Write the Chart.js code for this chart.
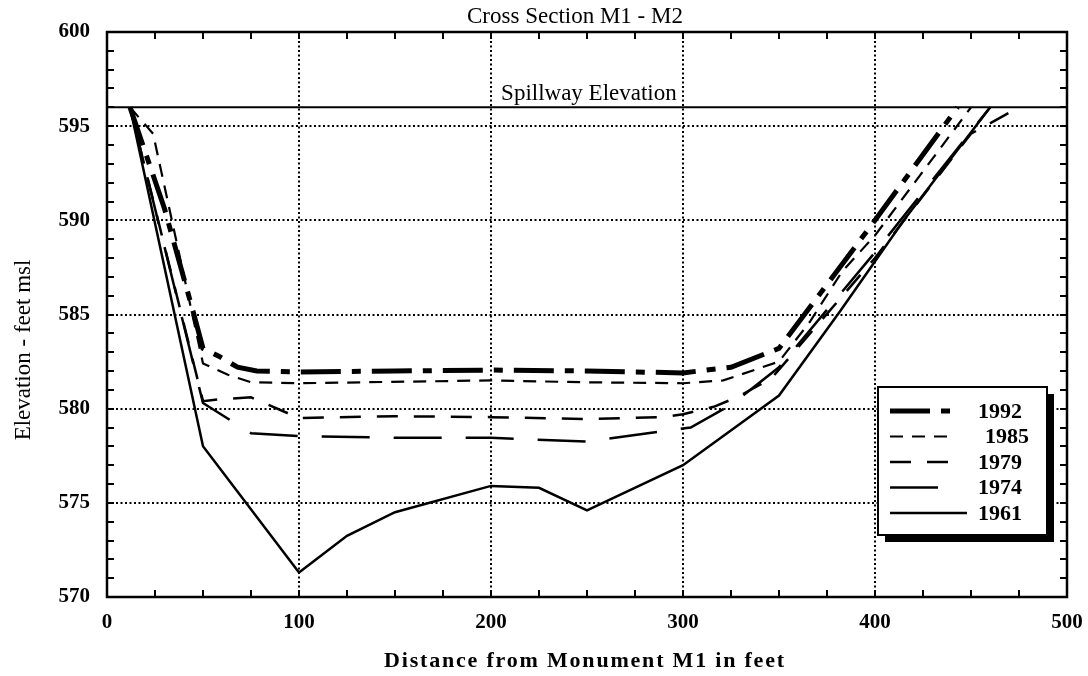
<!DOCTYPE html>
<html>
<head>
<meta charset="utf-8">
<script src="https://cdn.jsdelivr.net/npm/chart.js@4.4.1/dist/chart.umd.min.js"></script>
<style>
  html, body { margin: 0; padding: 0; background: #fff; }
</style>
</head>
<body>
<canvas id="crossChart" width="1088" height="676"></canvas>
<script>
// Cross Section M1 - M2, elevations
const years = ["1992", "1985", "1979", "1974", "1961"];

const x1992 = [12, 30, 45, 50, 58, 68, 78, 100, 150, 200, 250, 300, 325, 350, 400, 443];
const y1992 = [596, 590.6, 585.1, 583.2, 582.8, 582.2, 582.0, 581.95, 582.0, 582.05, 582.0, 581.9, 582.2, 583.2, 590.0, 596];

const x1985 = [12, 24, 50, 63, 75, 100, 200, 250, 300, 321, 350, 366, 383, 400, 450];
const y1985 = [596, 594.6, 582.4, 581.8, 581.4, 581.35, 581.5, 581.4, 581.35, 581.5, 582.5, 584.6, 587.3, 589.2, 596];

const x1979 = [12, 50, 59, 75, 100, 150, 200, 250, 290, 300, 316, 328, 346, 400, 450, 475];
const y1979 = [596, 580.4, 580.5, 580.6, 579.5, 579.6, 579.55, 579.45, 579.55, 579.7, 580.1, 580.6, 581.6, 588.0, 594.6, 596];

const x1974 = [12, 50, 75, 100, 150, 200, 250, 304, 325, 350, 400, 460];
const y1974 = [596, 580.3, 578.7, 578.55, 578.45, 578.45, 578.25, 579.0, 580.2, 582.2, 588.3, 596];

const x1961 = [12, 50, 100, 125, 150, 200, 225, 250, 300, 350, 382, 415, 460];
const y1961 = [596, 578.0, 571.3, 573.25, 574.5, 575.9, 575.8, 574.6, 577.0, 580.7, 585.2, 590.0, 596];

// spillway elevation line
const spillX = [0, 500];
const spillY = [596, 596];

// axes
const xTicks = [0, 100, 200, 300, 400, 500];
const yTicks = [570, 575, 580, 585, 590, 595, 600];
const xGrid = [100, 200, 300, 400];
const yGrid = [575, 580, 585, 590, 595];
const xMinor = [25, 50, 75, 125, 150, 175, 225, 250, 275, 325, 350, 375, 425, 450, 475];
const yMinor = [571, 572, 573, 574, 576, 577, 578, 579, 581, 582, 583, 584, 586, 587, 588, 589, 591, 592, 593, 594, 596, 597, 598, 599];

const serif = "'Liberation Serif', 'DejaVu Serif', serif";

function toPoints(xs, ys) {
  return xs.map((v, i) => ({ x: v, y: ys[i] }));
}

const seriesX = [x1992, x1985, x1979, x1974, x1961];
const seriesY = [y1992, y1985, y1979, y1974, y1961];
const dashes = [[40, 11, 9, 11], [13, 9], [21, 16], [48, 24], []];
const widths = [5, 2.2, 2.5, 2.5, 2.5];

const datasets = years.map((yr, i) => ({
  label: yr,
  data: toPoints(seriesX[i], seriesY[i]),
  borderColor: "#000",
  borderWidth: widths[i],
  borderDash: dashes[i],
  pointRadius: 0,
  tension: 0,
  fill: false,
}));

datasets.push({
  label: "Spillway Elevation",
  data: toPoints(spillX, spillY),
  borderColor: "#000",
  borderWidth: 2,
  pointRadius: 0,
  fill: false,
});

// grid, inward ticks, frame, texts and the shadowed legend
const framePlugin = {
  id: "frame",
  beforeDatasetsDraw(chart) {
    const { ctx, chartArea: a, scales: { x, y } } = chart;
    ctx.save();
    ctx.strokeStyle = "#000";
    ctx.lineWidth = 2;
    ctx.setLineDash([2, 2.5]);
    xGrid.forEach((v) => {
      const px = Math.round(x.getPixelForValue(v));
      ctx.beginPath();
      ctx.moveTo(px, a.top);
      ctx.lineTo(px, a.bottom);
      ctx.stroke();
    });
    yGrid.forEach((v) => {
      const py = Math.round(y.getPixelForValue(v));
      ctx.beginPath();
      ctx.moveTo(a.left, py);
      ctx.lineTo(a.right, py);
      ctx.stroke();
    });
    ctx.restore();
  },
  afterDatasetsDraw(chart) {
    const { ctx, chartArea: a, scales: { x, y } } = chart;
    ctx.save();
    ctx.strokeStyle = "#000";
    ctx.fillStyle = "#000";
    ctx.setLineDash([]);

    // minor + major tick marks, pointing inward on all four sides
    ctx.lineWidth = 2;
    const tl = 7;
    xMinor.concat(xTicks).forEach((v) => {
      const px = Math.round(x.getPixelForValue(v));
      ctx.beginPath();
      ctx.moveTo(px, a.bottom);
      ctx.lineTo(px, a.bottom - tl);
      ctx.moveTo(px, a.top);
      ctx.lineTo(px, a.top + tl);
      ctx.stroke();
    });
    yMinor.concat(yTicks).forEach((v) => {
      const py = Math.round(y.getPixelForValue(v));
      ctx.beginPath();
      ctx.moveTo(a.left, py);
      ctx.lineTo(a.left + tl, py);
      ctx.moveTo(a.right, py);
      ctx.lineTo(a.right - tl, py);
      ctx.stroke();
    });

    // plot frame
    ctx.lineWidth = 2.5;
    ctx.strokeRect(a.left, a.top, a.right - a.left, a.bottom - a.top);

    // texts
    ctx.textAlign = "center";
    ctx.textBaseline = "alphabetic";
    ctx.font = "23px " + serif;
    ctx.fillText("Cross Section M1 - M2", a.left + (a.right - a.left) / 2 - 12, 23);
    ctx.fillText("Spillway Elevation", x.getPixelForValue(251), y.getPixelForValue(596) - 7);
    ctx.font = "bold 22px " + serif;
    ctx.letterSpacing = "1.8px";
    ctx.fillText("Distance from Monument M1 in feet", a.left + (a.right - a.left) / 2 - 2, 667);
    ctx.letterSpacing = "0px";

    ctx.save();
    ctx.translate(30, 350);
    ctx.rotate(-Math.PI / 2);
    ctx.font = "23px " + serif;
    ctx.fillText("Elevation - feet msl", 0, 0);
    ctx.restore();

    // legend box with drop shadow
    const bx = a.right - 189, by = a.top + 355, bw = 169, bh = 148;
    ctx.fillRect(bx + 7, by + 7, bw, bh);
    ctx.fillStyle = "#fff";
    ctx.fillRect(bx, by, bw, bh);
    ctx.lineWidth = 2;
    ctx.strokeRect(bx, by, bw, bh);

    ctx.fillStyle = "#000";
    ctx.font = "bold 22px " + serif;
    ctx.textAlign = "left";
    ctx.textBaseline = "middle";
    years.forEach((yr, i) => {
      const ds = chart.data.datasets[i];
      const ly = by + 24 + i * 25.5;
      const len = i === 4 ? 77 : 62;
      ctx.lineWidth = ds.borderWidth;
      ctx.setLineDash(ds.borderDash);
      ctx.beginPath();
      ctx.moveTo(bx + 12, ly);
      ctx.lineTo(bx + 12 + len, ly);
      ctx.stroke();
      ctx.setLineDash([]);
      ctx.fillText(yr, bx + (i === 1 ? 107 : 100), ly + 1);
    });
    ctx.restore();
  },
};

const tickFont = { family: serif, size: 21, weight: "bold" };

const config = {
  type: "line",
  data: { datasets: datasets },
  options: {
    responsive: false,
    animation: false,
    layout: { padding: { top: 32, right: 21, left: 0, bottom: 0 } },
    plugins: {
      legend: { display: false },
      title: { display: false },
      tooltip: { enabled: false },
    },
    scales: {
      x: {
        type: "linear",
        min: 0,
        max: 500,
        grid: { display: false, drawTicks: false },
        border: { display: false },
        afterBuildTicks: (s) => { s.ticks = xTicks.map((v) => ({ value: v })); },
        afterFit: (s) => { s.height = 79; s.paddingLeft = 0; s.paddingRight = 0; },
        ticks: { color: "#000", font: tickFont, padding: 13, maxRotation: 0 },
      },
      y: {
        type: "linear",
        min: 570,
        max: 600,
        grid: { display: false, drawTicks: false },
        border: { display: false },
        afterBuildTicks: (s) => { s.ticks = yTicks.map((v) => ({ value: v })); },
        afterFit: (s) => { s.width = 107; s.paddingTop = 0; s.paddingBottom = 0; },
        ticks: { color: "#000", font: tickFont, padding: 17 },
      },
    },
  },
  plugins: [framePlugin],
};

const crossChart = new Chart(document.getElementById("crossChart").getContext("2d"), config);
</script>
</body>
</html>
